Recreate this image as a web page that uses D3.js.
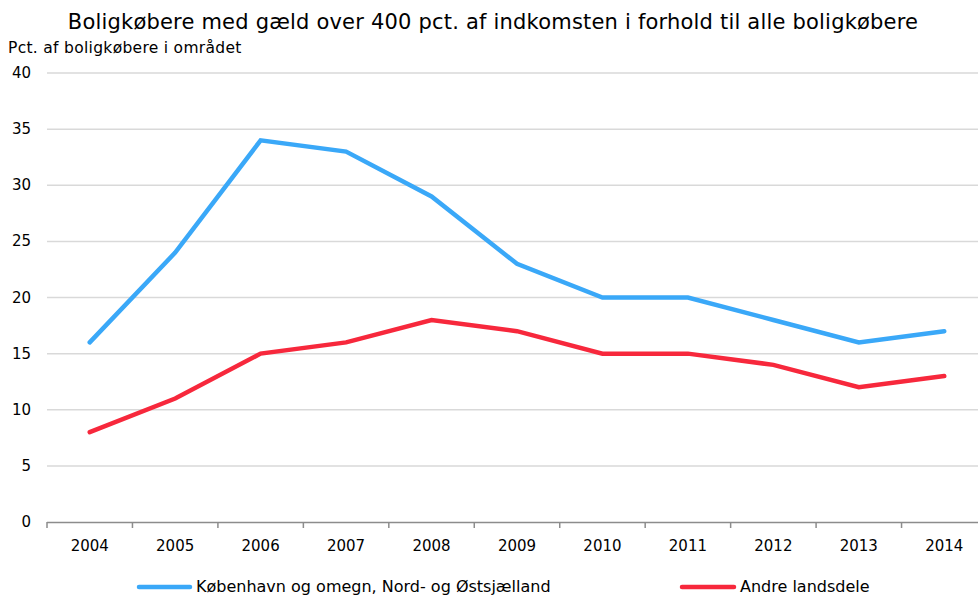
<!DOCTYPE html>
<html><head><meta charset="utf-8">
<script src="https://cdn.jsdelivr.net/npm/d3@7"></script>
<style>body{margin:0;background:#fff}svg{display:block}text{font-family:Verdana,"DejaVu Sans",sans-serif;fill:#000}</style>
</head><body>
<svg id="c" width="978" height="597"></svg>
<script>
const years = ["2004","2005","2006","2007","2008","2009","2010","2011","2012","2013","2014"];
const kbh = [16,24,34,33,29,23,20,20,18,16,17];
const andre = [8,11,15,16,18,17,15,15,14,12,13];
const yTicks = [0,5,10,15,20,25,30,35,40];
const seriesNames = ["København og omegn, Nord- og Østsjælland","Andre landsdele"];
const colors = ["#3aa8f8","#f7283c"];

const svg = d3.select("#c");
const x = d3.scaleBand().domain(years).range([47, 987]);
const y = d3.scaleLinear().domain([0,40]).range([522, 73]);

svg.append("text").attr("x",493).attr("y",29).attr("text-anchor","middle").style("font-size","21px").style("letter-spacing","0.2px").text("Boligkøbere med gæld over 400 pct. af indkomsten i forhold til alle boligkøbere");
svg.append("text").attr("x",8).attr("y",53).style("font-size","15.5px").style("letter-spacing","0.3px").text("Pct. af boligkøbere i området");

// gridlines
svg.append("g").selectAll("line").data(yTicks.filter(d=>d>0)).join("line")
  .attr("x1",47).attr("x2",978).attr("y1",d=>y(d)).attr("y2",d=>y(d))
  .attr("stroke","#d9d9d9").attr("stroke-width",1.5);
svg.append("g").selectAll("text").data(yTicks).join("text")
  .attr("x",31).attr("y",d=>y(d)+5).attr("text-anchor","end").style("font-size","15px").text(d=>d);

// x axis
const xa = svg.append("g");
xa.append("line").attr("x1",47).attr("x2",978).attr("y1",522.5).attr("y2",522.5).attr("stroke","#8c8c8c").attr("stroke-width",1.5);
xa.selectAll("line.t").data(years).join("line").attr("class","t")
  .attr("x1",d=>x(d)).attr("x2",d=>x(d)).attr("y1",522).attr("y2",528).attr("stroke","#8c8c8c").attr("stroke-width",1.5);
xa.selectAll("text").data(years).join("text")
  .attr("x",d=>x(d)+x.bandwidth()/2).attr("y",551).attr("text-anchor","middle").style("font-size","15px").text(d=>d);

const line = d3.line().x((d,i)=>x(years[i])+x.bandwidth()/2).y(d=>y(d));
[kbh, andre].forEach((s,i)=>{
  svg.append("path").datum(s).attr("d",line).attr("fill","none").attr("stroke",colors[i])
    .attr("stroke-width",4.5).attr("stroke-linecap","round").attr("stroke-linejoin","miter");
});

// legend
const lg = [{x1:139,x2:190,tx:196},{x1:682,x2:734,tx:740}];
lg.forEach((l,i)=>{
  svg.append("line").attr("x1",l.x1).attr("x2",l.x2).attr("y1",587).attr("y2",587).attr("stroke",colors[i]).attr("stroke-width",4.5).attr("stroke-linecap","round");
  svg.append("text").attr("x",l.tx).attr("y",592).style("font-size","16px").text(seriesNames[i]);
});
</script>
</body></html>
